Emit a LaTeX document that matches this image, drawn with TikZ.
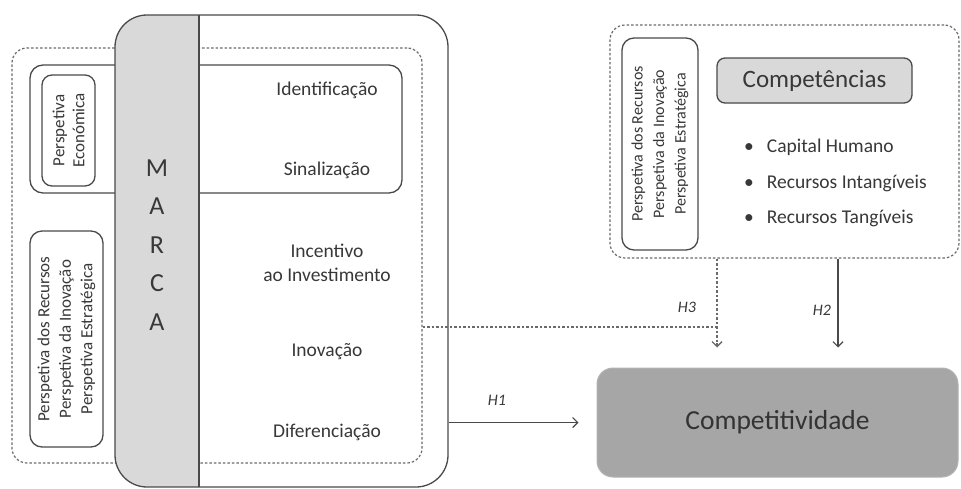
\documentclass[tikz,border=0pt]{standalone}
\usepackage{fontspec}
\setmainfont{Carlito}
\usetikzlibrary{arrows.meta,calc}
\definecolor{txt}{HTML}{383838}
\definecolor{lineg}{HTML}{4A4A4A}
\definecolor{dashg}{HTML}{6A6A6A}
\definecolor{bandgray}{HTML}{D9D9D9}
\definecolor{darkfill}{HTML}{A6A6A6}
\begin{document}
\begin{tikzpicture}[x=1pt,y=-1pt,
  solidbox/.style={draw=lineg, line width=1.3pt, inner sep=0pt},
  dashbox/.style={draw=dashg, line width=1.2pt, dash pattern=on 2.5pt off 2pt, rounded corners=15pt, inner sep=0pt},
  label/.style={text=txt, font=\fontsize{19.5}{23.5}\selectfont, align=center, inner sep=0pt},
  perstext/.style={solidbox, rounded corners=12pt, rotate=90, text=txt, align=center},
  hlabel/.style={text=txt, font=\fontsize{16}{18}\selectfont\itshape, inner sep=0pt},
  solidarrow/.style={draw=lineg, line width=1.2pt, -{Straight Barb[length=5pt,width=10pt]}},
  dashline/.style={draw=dashg, line width=1.2pt, dash pattern=on 2.5pt off 2pt},
  dashtip/.style={draw=dashg, line width=1.3pt, solid, -{Straight Barb[length=5pt,width=10pt]}}
]
\fill[white] (0,0) rectangle (961,488);
\useasboundingbox (0,0) rectangle (961,488);

% left dashed region
\node[dashbox, minimum width=410pt, minimum height=415pt] (dashL) at (217,255.5) {};
% upper solid box (economic perspective)
\node[solidbox, rounded corners=13pt, minimum width=372pt, minimum height=128pt] (upper) at (216,129) {};
\node[perstext, rounded corners=10pt, minimum width=111pt, minimum height=53pt,
      font=\fontsize{17}{20}\selectfont] (econ) at (68.5,130.5) {Perspetiva\\Económica};
\node[perstext, minimum width=216pt, minimum height=73pt,
      font=\fontsize{17}{21.5}\selectfont] (persL) at (66.5,339) {Perspetiva dos Recursos\\Perspetiva da Inovação\\Perspetiva Estratégica};

% MARCA outer box with gray band
\node[solidbox, rounded corners=32pt, minimum width=333pt, minimum height=472pt,
  path picture={
    \fill[bandgray, sharp corners] (path picture bounding box.north west) rectangle ([xshift=84pt]path picture bounding box.south west);
    \draw[lineg, line width=1.3pt, sharp corners] ([xshift=84pt]path picture bounding box.north west) -- ([xshift=84pt]path picture bounding box.south west);
  }] (marca) at (281.5,251) {};
\node[text=txt, font=\fontsize{26}{38.5}\selectfont, align=center, inner sep=0pt] (marcatext) at (157,245) {M\\A\\R\\C\\A};

\node[label] (ident) at (327,90) {Identificação};
\node[label] (sinal) at (327,170) {Sinalização};
\node[label] (incent) at (327,263) {Incentivo\\ao Investimento};
\node[label] (inov) at (327,352) {Inovação};
\node[label] (difer) at (327,432) {Diferenciação};

% right dashed region
\node[dashbox, minimum width=349pt, minimum height=233pt] (dashR) at (784.5,141.5) {};
\node[perstext, minimum width=212pt, minimum height=76pt,
      font=\fontsize{16}{21.5}\selectfont] (persR) at (660,144) {Perspetiva dos Recursos\\Perspetiva da Inovação\\Perspetiva Estratégica};
\node[solidbox, rounded corners=8pt, fill=bandgray, minimum width=195pt, minimum height=45pt,
      text=txt, font=\fontsize{25}{30}\selectfont] (comp) at (814.5,80.5) {Competências};
\node[label, anchor=west] (cap) at (744,147) {•\hspace{13pt}Capital Humano};
\node[label, anchor=west] (intang) at (744,183) {•\hspace{13pt}Recursos Intangíveis};
\node[label, anchor=west] (tang) at (744,218) {•\hspace{13pt}Recursos Tangíveis};

% Competitividade
\node[draw=darkfill!85!white, line width=1pt, fill=darkfill, rounded corners=16pt, minimum width=361pt, minimum height=109pt,
      text=black!80, font=\fontsize{27.5}{32}\selectfont] (compet) at (777.5,422.5) {Competitividade};

% connectors
\coordinate (h2x) at (838,0);
\coordinate (h3x) at (717,0);
\coordinate (h3y) at (0,327);
\draw[solidarrow] (marca.east |- compet.west) -- ([xshift=-18pt]compet.west);
\node[hlabel] (h1) at (497,400) {H1};
\draw[solidarrow] (dashR.south -| h2x) -- ([yshift=20pt]compet.north -| h2x);
\node[hlabel] (h2) at (822,310) {H2};
\draw[dashline] (dashR.south -| h3x) -- ([yshift=24pt]compet.north -| h3x);
\draw[dashtip] ([yshift=25pt]compet.north -| h3x) -- ([yshift=20pt]compet.north -| h3x);
\draw[dashline] (dashL.east |- h3y) -- (h3x |- h3y);
\node[hlabel] (h3) at (687,307) {H3};
\end{tikzpicture}
\end{document}
